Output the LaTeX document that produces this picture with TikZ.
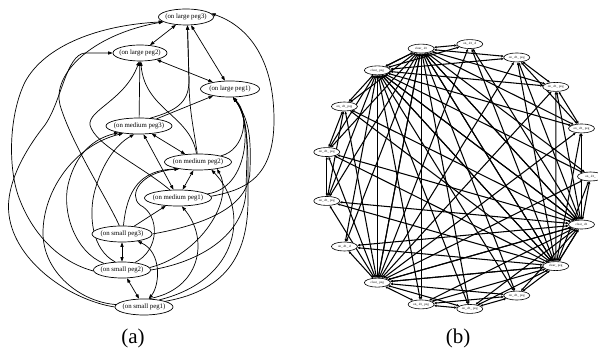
\documentclass[tikz,border=0pt]{standalone}
\usepackage{fontspec}
\setmainfont{Liberation Serif}
\usetikzlibrary{shapes.geometric,arrows.meta}
\pgfdeclarelayer{bg}
\pgfsetlayers{bg,main}
\begin{document}
\begin{tikzpicture}[x=1pt,y=-1pt,
  an/.style={draw,ellipse,fill=white,inner sep=0pt,minimum height=16pt,line width=0.7pt,font=\fontsize{6.8}{7}\selectfont},
  bn/.style={draw,ellipse,fill=white,inner sep=0pt,minimum width=26pt,minimum height=9pt,line width=0.6pt,font=\fontsize{3.2}{3.2}\selectfont},
  dbl/.style={line width=0.7pt,{Triangle[length=4.5pt,width=3.2pt]}-{Triangle[length=4.5pt,width=3.2pt]}},
  sgl/.style={line width=0.7pt,-{Triangle[length=4.5pt,width=3.2pt]}},
  be/.style={line width=1.05pt,{Triangle[length=2.6pt,width=2.2pt]}-{Triangle[length=2.6pt,width=2.2pt]}},
  captxt/.style={font=\fontsize{21}{22}\selectfont}]
\useasboundingbox (0,0) rectangle (598,352);
% ---------- (a) nodes
\node[an,minimum width=55pt] (L3) at (186,17) {\makebox[0pt]{(on large peg3)}};
\node[an,minimum width=54pt] (L2) at (140,53) {\makebox[0pt]{(on large peg2)}};
\node[an,minimum width=59pt] (L1) at (230,89) {\makebox[0pt]{(on large peg1)}};
\node[an,minimum width=66pt] (M3) at (139,126) {\makebox[0pt]{(on medium peg3)}};
\node[an,minimum width=67pt] (M2) at (198,162) {\makebox[0pt]{(on medium peg2)}};
\node[an,minimum width=67pt] (M1) at (178,198) {\makebox[0pt]{(on medium peg1)}};
\node[an,minimum width=60pt] (S3) at (122,234) {\makebox[0pt]{(on small peg3)}};
\node[an,minimum width=57pt] (S2) at (122,270) {\makebox[0pt]{(on small peg2)}};
\node[an,minimum width=58pt] (S1) at (144,307) {\makebox[0pt]{(on small peg1)}};
\node[captxt] (capa) at (133,338) {(a)};
\node[captxt] (capb) at (458,338) {(b)};
\begin{pgfonlayer}{bg}
% doubles
\draw[dbl] (L3) -- (L2);
\draw[dbl] (L2) -- (L1);
\draw[dbl] (L3) -- (L1);
\draw[dbl] (M3) -- (M2);
\draw[dbl] (M2) -- (M1);
\draw[dbl] (M3) -- (M1);
\draw[dbl] (S3) -- (S2);
\draw[dbl] (S2) -- (S1);
\draw[dbl] (S3.-25) .. controls (162,252) and (160,285) .. (S1.60);
% medium -> large
\draw[sgl] (M3) -- (L1);
\draw[sgl] (M3) -- (L2);
\draw[sgl] (M3.35) .. controls (180,110) and (189,100) .. (189,80) -- (L3.-80);
\draw[sgl] (M2.95) .. controls (194,130) and (189,110) .. (189,80) -- (L3.-80);
\draw[sgl] (M2.100) .. controls (190,115) and (145,110) .. (L2.-85);
\draw[sgl] (M2.15) .. controls (245,150) and (250,115) .. (L1.-70);
\draw[sgl] (M1.8) .. controls (250,188) and (252,120) .. (L1.-70);
\draw[sgl] (M1.135) .. controls (140,165) and (95,145) .. (90,125) .. controls (88,110) and (125,100) .. (L2.-95);
\draw[sgl] (M1.3) .. controls (245,190) and (274,178) .. (274,120) .. controls (274,55) and (245,25) .. (L3.8);
% small -> large (left side)
\draw[sgl] (S2.182) .. controls (60,262) and (32,235) .. (18,195) .. controls (8,165) and (9,115) .. (25,82) .. controls (45,45) and (100,25) .. (L3.192);
\draw[sgl] (S3.108) .. controls (108,200) and (72,145) .. (60,105) .. controls (52,75) and (90,35) .. (L3.192);
\draw[sgl] (S1.180) .. controls (70,300) and (15,262) .. (9,215) .. controls (5,185) and (25,150) .. (45,125) .. controls (62,100) and (66,55) .. (85,53) -- (L2.west);
% small -> medium
\draw[sgl] (S1.175) .. controls (80,302) and (43,272) .. (43,233) .. controls (43,190) and (75,145) .. (M3.205);
\draw[sgl] (S2.160) .. controls (75,252) and (62,212) .. (68,185) .. controls (74,160) and (88,140) .. (M3.198);
\draw[sgl] (S2.130) .. controls (92,250) and (88,215) .. (95,190) .. controls (102,165) and (115,145) .. (M3.-120);
\draw[sgl] (S3.80) .. controls (127,190) and (140,170) .. (M2.200);
\draw[sgl] (S3) -- (M1);
\draw[sgl] (S2.30) .. controls (160,250) and (160,215) .. (140,205) .. controls (128,195) and (140,172) .. (M2.200);
\draw[sgl] (S1.60) .. controls (200,290) and (210,240) .. (M1.-65);
\draw[sgl] (S1.25) .. controls (240,280) and (250,210) .. (M2.-30);
\draw[sgl] (S2.5) .. controls (200,255) and (235,200) .. (M2.-20);
% small -> large (right side)
\draw[sgl] (S1.15) .. controls (230,290) and (248,250) .. (248,200) .. controls (248,160) and (250,120) .. (L1.-70);
\draw[sgl] (S2.0) .. controls (200,262) and (245,235) .. (246,190) .. controls (247,150) and (250,120) .. (L1.-70);
\draw[sgl] (S3.0) .. controls (220,222) and (250,200) .. (250,170) .. controls (251,140) and (250,120) .. (L1.-70);
\end{pgfonlayer}
% ---------- (b) nodes
\foreach \k/\lab in {0/{on\_ d1\_},1/{on\_ d1\_ peg},2/{on\_ d1\_ peg},3/{on\_ d1\_ peg},4/{on\_ d1\_ d},5/{clear\_ d1},6/{clear\_ peg},7/{on\_ d1\_ peg},8/{on\_ d1\_ peg},9/{on\_ d1\_ peg},10/{on\_ d1\_ d},11/{clear\_ peg},12/{on\_ d1\_ peg},13/{on\_ d1\_ peg},14/{on\_ d1\_ peg},15/{clear\_ peg},16/{clear\_ d1}}
  \node[bn] (b\k) at ({457.5+133*cos(\k*360/17)},{176.5-133*sin(\k*360/17)}) {\makebox[0pt]{\lab}};
\begin{pgfonlayer}{bg}
\foreach \h in {5,6,11,15,16}{
  \foreach \j in {0,...,16}{
    \ifnum\j=\h\else \draw[be] (b\h) -- (b\j);\fi
  }
}
\foreach \p/\q in {1/2,2/3,1/3,7/8,8/9,7/9,12/13,13/14,12/14}{
  \draw[be] (b\p) -- (b\q);
}
\end{pgfonlayer}
\end{tikzpicture}
\end{document}
